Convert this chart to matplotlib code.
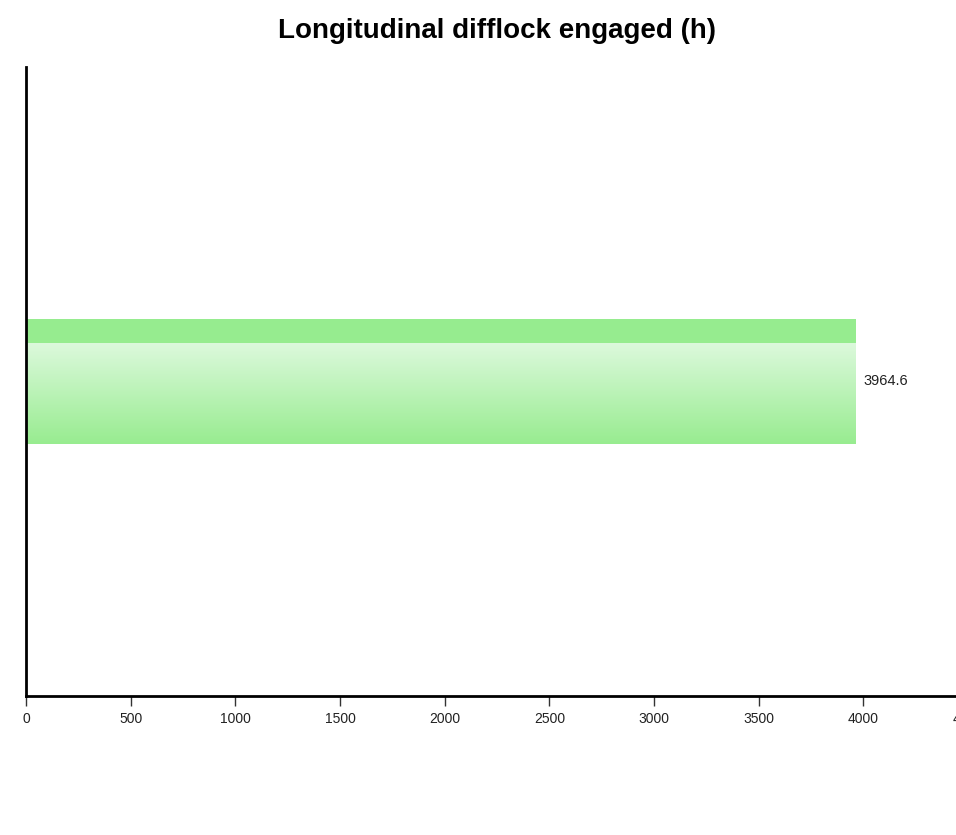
import numpy as np
import matplotlib.pyplot as plt
from matplotlib.colors import LinearSegmentedColormap

# Data
categories = ["Longitudinal difflock"]
hours = [3964.6]
title = "Longitudinal difflock engaged (h)"
x_ticks = [0, 500, 1000, 1500, 2000, 2500, 3000, 3500, 4000, 4500]

plt.rcParams['font.family'] = ['Liberation Sans', 'DejaVu Sans']

W, H = 956, 835
fig = plt.figure(figsize=(W / 100, H / 100), dpi=100)

# Axes run past the right edge, like the original widget
left, right = 26, 968
top, bottom = 67, 696
ax = fig.add_axes([left / W, (H - bottom) / H, (right - left) / W, (bottom - top) / H])

y_pos = np.arange(len(categories))
bar_h = 0.2
band = 0.04
bars = ax.barh(y_pos, hours, height=bar_h, color="#96ec8f", edgecolor="none", zorder=1)

# Glossy gradient in the lower part of each bar
grad_cmap = LinearSegmentedColormap.from_list("gloss", ["#98ec90", "#dcf9dc"])
gradient = np.linspace(0, 1, 256).reshape(-1, 1)
for rect in bars:
    x0, y0 = rect.get_x(), rect.get_y()
    w, h = rect.get_width(), rect.get_height()
    ax.imshow(gradient, cmap=grad_cmap, origin="lower", aspect="auto",
              extent=(x0, x0 + w, y0, y0 + h - band), zorder=1.5)
    ax.text(x0 + w + 38, y0 + h / 2, f"{w:.1f}", va="center", ha="left",
            fontsize=10.5, color="#222222")

ax.set_xlim(0, 4500)
ax.set_ylim(-0.5, 0.5)

# Spines and ticks
for s in ["top", "right"]:
    ax.spines[s].set_visible(False)
ax.spines["left"].set_linewidth(2)
ax.spines["bottom"].set_linewidth(2)
ax.spines["left"].set_zorder(3)
ax.spines["bottom"].set_zorder(3)
ax.set_yticks([])
ax.set_xticks(x_ticks)
ax.set_xticklabels([str(t) for t in x_ticks])
ax.tick_params(axis="x", length=7.5, width=1, color="#333333", labelsize=10,
               labelcolor="#222222", pad=4)

fig.text((left + right) / 2 / W, 1 - 31 / H, title, ha="center", va="center",
         fontsize=20, fontweight="bold")

fig.savefig("out.png", dpi=100)
